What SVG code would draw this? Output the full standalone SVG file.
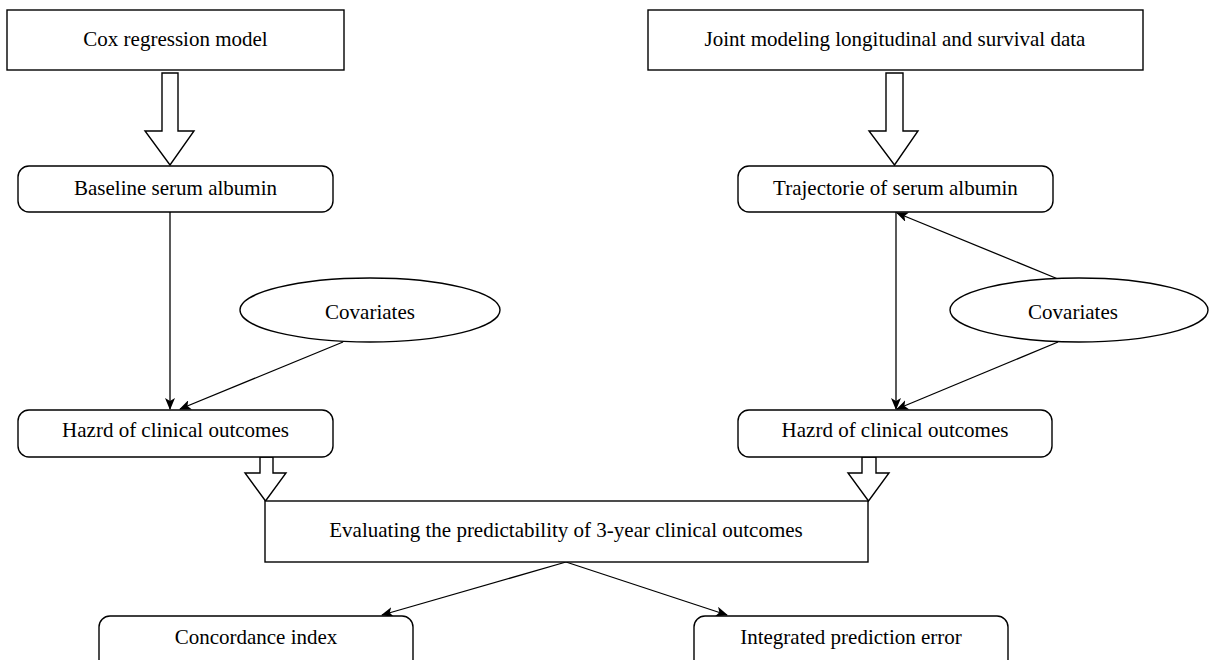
<svg xmlns="http://www.w3.org/2000/svg" width="1210" height="660" viewBox="0 0 1210 660">
<style>
.box{fill:#fff;stroke:#000;stroke-width:1.4}
.blk{fill:#fff;stroke:#000;stroke-width:1.4;stroke-linejoin:miter}
.t{font-family:"Liberation Serif","Times New Roman",serif;font-size:21px;fill:#000;text-anchor:middle}
.c{fill:none;stroke:#000;stroke-width:1.3}
</style>
<defs>
<marker id="ah" viewBox="0 0 12 10" refX="11" refY="5" markerWidth="12" markerHeight="10" markerUnits="userSpaceOnUse" orient="auto">
<path d="M0,0 L12,5 L0,10 L3,5 z" fill="#000"/>
</marker>
</defs>
<rect width="1210" height="660" fill="#fff"/>
<g id="connectors">
<line class="c" x1="170" y1="212" x2="170" y2="409" marker-end="url(#ah)"/>
<line class="c" x1="343" y1="342" x2="180" y2="409" marker-end="url(#ah)"/>
<line class="c" x1="896" y1="212" x2="896" y2="409" marker-end="url(#ah)"/>
<line class="c" x1="1058" y1="279" x2="897" y2="213" marker-end="url(#ah)"/>
<line class="c" x1="1058" y1="342" x2="897" y2="409" marker-end="url(#ah)"/>
<line class="c" x1="566" y1="562" x2="382" y2="615" marker-end="url(#ah)"/>
<line class="c" x1="566" y1="562" x2="727" y2="615" marker-end="url(#ah)"/>
<polygon class="blk" points="162,73 178,73 178,131 194,131 170,165 145,131 162,131"/>
<polygon class="blk" points="886,73 903,73 903,131 918,131 894.5,165 869,131 886,131"/>
<polygon class="blk" points="260,457 273,457 273,473 286,473 265.5,501 245,473 260,473"/>
<polygon class="blk" points="862,457 876,457 876,473 889,473 868.5,501 848,473 862,473"/>
</g>
<g id="cox">
<rect class="box" x="7" y="10" width="337" height="60"/>
<text class="t" x="175.5" y="46">Cox regression model</text>
</g>
<g id="joint">
<rect class="box" x="648" y="10" width="495" height="60"/>
<text class="t" x="895" y="46">Joint modeling longitudinal and survival data</text>
</g>
<g id="baseline">
<rect class="box" x="18" y="166" width="315" height="46" rx="11"/>
<text class="t" x="175.5" y="195">Baseline serum albumin</text>
</g>
<g id="trajectorie">
<rect class="box" x="738" y="166" width="315" height="46" rx="11"/>
<text class="t" x="895.5" y="195">Trajectorie of serum albumin</text>
</g>
<g id="covariates-left">
<ellipse class="box" cx="370" cy="310" rx="130" ry="32"/>
<text class="t" x="370" y="319">Covariates</text>
</g>
<g id="covariates-right">
<ellipse class="box" cx="1079" cy="310" rx="129" ry="32"/>
<text class="t" x="1073" y="319">Covariates</text>
</g>
<g id="hazard-left">
<rect class="box" x="18" y="410" width="315" height="47" rx="11"/>
<text class="t" x="175.5" y="437">Hazrd of clinical outcomes</text>
</g>
<g id="hazard-right">
<rect class="box" x="738" y="410" width="314" height="47" rx="11"/>
<text class="t" x="895" y="437">Hazrd of clinical outcomes</text>
</g>
<g id="evaluating">
<rect class="box" x="265" y="501" width="603" height="61"/>
<text class="t" x="566" y="537">Evaluating the predictability of 3-year clinical outcomes</text>
</g>
<g id="concordance">
<rect class="box" x="99" y="616" width="314" height="60" rx="11"/>
<text class="t" x="256" y="644">Concordance index</text>
</g>
<g id="integrated">
<rect class="box" x="694" y="616" width="314" height="60" rx="11"/>
<text class="t" x="851" y="644">Integrated prediction error</text>
</g>
</svg>
